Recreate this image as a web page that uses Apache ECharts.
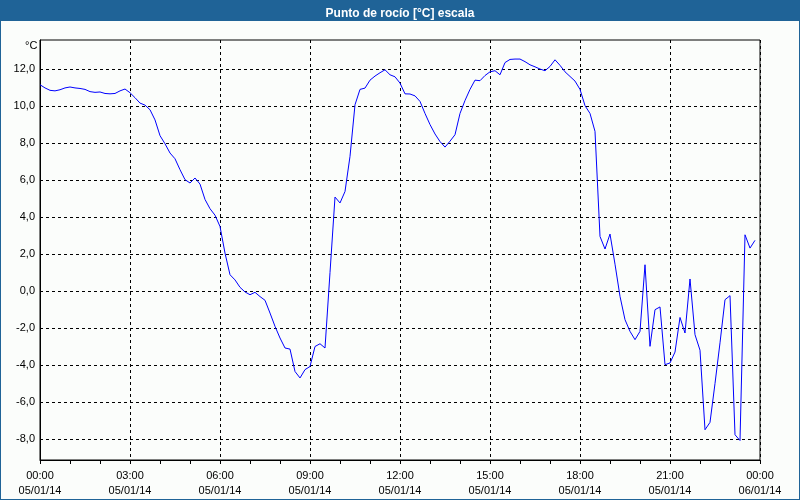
<!DOCTYPE html>
<html><head><meta charset="utf-8">
<script src="https://cdn.jsdelivr.net/npm/echarts@6/dist/echarts.min.js"></script>
<style>html,body{margin:0;padding:0;background:#fbfdfb}#c{width:800px;height:500px}</style>
</head><body><div id="c"></div>
<script>
const titleText = "Punto de rocío [°C] escala";
const unitLabel = "°C";
const stepMinutes = 10; // sampling interval of the series, starting 05/01/14 00:00
const dewPoint = [
  11.15,10.98,10.85,10.82,10.88,10.98,11.03,10.98,10.95,10.9,
  10.78,10.74,10.76,10.68,10.66,10.68,10.82,10.92,10.72,10.45,
  10.16,10.05,9.8,9.25,8.4,7.96,7.46,7.15,6.56,6.02,
  5.84,6.11,5.78,4.95,4.45,4.1,3.49,2.05,0.88,0.6,
  0.2,-0.05,-0.2,-0.07,-0.3,-0.5,-1.19,-1.91,-2.54,-3.08,
  -3.14,-4.35,-4.7,-4.25,-4.08,-3.0,-2.85,-3.08,1.0,5.08,
  4.76,5.38,7.28,10.07,10.9,10.97,11.4,11.62,11.8,11.96,
  11.69,11.58,11.24,10.66,10.65,10.55,10.25,9.6,9.0,8.49,
  8.08,7.78,8.1,8.45,9.6,10.3,10.9,11.4,11.37,11.65,
  11.85,11.91,11.69,12.35,12.52,12.54,12.54,12.4,12.23,12.12,
  12.0,11.91,12.14,12.5,12.2,11.85,11.6,11.35,10.9,10.02,
  9.6,8.63,2.95,2.27,3.08,1.45,-0.29,-1.55,-2.18,-2.63,
  -2.18,1.42,-2.99,-1.01,-0.86,-3.98,-3.89,-3.3,-1.43,-2.27,
  0.65,-2.36,-3.2,-7.5,-7.1,-5.0,-2.8,-0.47,-0.25,-7.77,
  -8.08,3.04,2.32,2.74
];
const xTickTimes = ["00:00","03:00","06:00","09:00","12:00","15:00","18:00","21:00","00:00"];
const xTickDates = ["05/01/14","05/01/14","05/01/14","05/01/14","05/01/14","05/01/14","05/01/14","05/01/14","06/01/14"];
const yTickValues = [-8,-6,-4,-2,0,2,4,6,8,10,12];
const yMin = -9.135, yMax = 13.57;

const seriesData = dewPoint.map((v, i) => [i * stepMinutes / 60, v]);
const fontFam = '"Liberation Sans", Arial, sans-serif';
const blue = '#1f6397';

const chart = echarts.init(document.getElementById('c'), null, {renderer: 'canvas'});
chart.setOption({
  backgroundColor: '#fbfdfb',
  animation: false,
  title: {
    text: titleText, left: 'center', top: 3,
    textStyle: {color: '#fff', fontSize: 12, fontWeight: 'bold', fontFamily: fontFam}
  },
  graphic: [
    {type: 'rect', shape: {x: 0, y: 0, width: 800, height: 21}, style: {fill: blue}, z: -1},
    {type: 'rect', shape: {x: 0, y: 0, width: 1, height: 500}, style: {fill: blue}},
    {type: 'rect', shape: {x: 799, y: 0, width: 1, height: 500}, style: {fill: blue}},
    {type: 'rect', shape: {x: 0, y: 499, width: 800, height: 1}, style: {fill: blue}},
    {type: 'text', left: 25, top: 40, style: {text: unitLabel, fill: '#000', font: '11px ' + fontFam}}
  ],
  grid: {left: 40, right: 40, top: 40, bottom: 40, show: true, borderColor: '#000', borderWidth: 1, backgroundColor: 'transparent'},
  xAxis: {
    type: 'value', min: 0, max: 24, interval: 3,
    axisLine: {onZero: false, lineStyle: {color: '#000', width: 1}},
    axisTick: {show: true, length: 4, lineStyle: {color: '#000'}},
    minorTick: {show: true, splitNumber: 3, length: 4, lineStyle: {color: '#000'}},
    splitLine: {show: true, lineStyle: {color: '#000', type: [3, 3], width: 1}},
    axisLabel: {
      color: '#000', fontSize: 11, fontFamily: fontFam, margin: 8, lineHeight: 15,
      formatter: v => { const i = Math.round(v / 3); return xTickTimes[i] + '\n' + xTickDates[i]; }
    }
  },
  yAxis: {
    type: 'value', min: yMin, max: yMax,
    axisLine: {show: true, onZero: false, lineStyle: {color: '#000', width: 1}},
    axisTick: {show: false, customValues: yTickValues},
    splitLine: {show: true, lineStyle: {color: '#000', type: [3, 3], width: 1}},
    axisLabel: {
      customValues: yTickValues, color: '#000', fontSize: 11, fontFamily: fontFam, margin: 5,
      formatter: v => v.toFixed(1).replace('.', ',')
    }
  },
  series: [{
    type: 'line', data: seriesData, showSymbol: false, symbol: 'none',
    lineStyle: {color: '#0000ff', width: 1}, itemStyle: {color: '#0000ff'}
  }]
});
</script>
</body></html>
